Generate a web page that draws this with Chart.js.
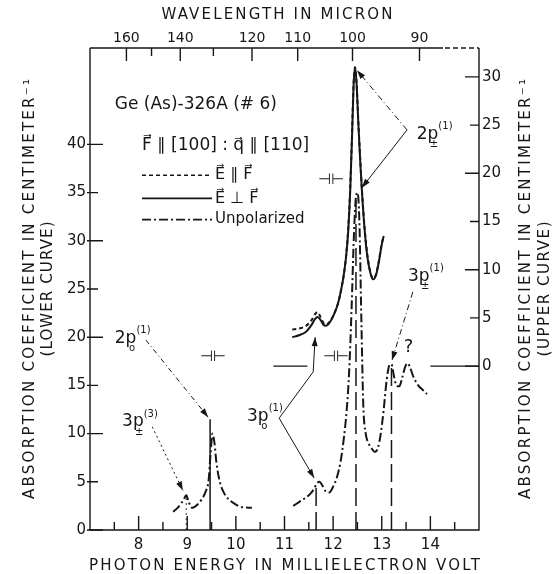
<!DOCTYPE html>
<html>
<head>
<meta charset="utf-8">
<script src="https://cdn.jsdelivr.net/npm/chart.js@4"></script>
<style>
  html, body { margin: 0; padding: 0; background: #fff; }
  #wrap { width: 556px; height: 574px; }
</style>
</head>
<body>
<div id="wrap"><canvas id="absChart"></canvas></div>
<script>
// photon energy (meV) / absorption coefficient (cm^-1), lower curve on left axis
const lowerE = [8.71, 8.8, 8.88, 8.94, 8.98, 9.03, 9.1, 9.2, 9.3, 9.38, 9.44, 9.48, 9.52, 9.56, 9.6, 9.66, 9.74, 9.85, 9.95, 10.1, 10.33,
  10.8,
  11.18, 11.3, 11.42, 11.52, 11.6, 11.66, 11.72, 11.78, 11.85, 11.92, 12.0, 12.08, 12.15, 12.22, 12.28, 12.33, 12.38, 12.42, 12.46, 12.5,
  12.54, 12.58, 12.62, 12.67, 12.73, 12.8, 12.86, 12.92, 12.98, 13.04, 13.1, 13.15, 13.2, 13.25, 13.3, 13.36, 13.42, 13.48, 13.53, 13.58,
  13.65, 13.75, 13.85, 13.93];
const lowerA = [1.9, 2.3, 2.8, 3.3, 3.6, 2.9, 2.3, 2.6, 3.2, 4.0, 5.2, 8.0, 10.0, 9.0, 7.0, 5.2, 4.0, 3.2, 2.8, 2.4, 2.3,
  null,
  2.5, 2.9, 3.3, 3.7, 4.2, 4.8, 5.0, 4.6, 4.0, 3.9, 4.5, 5.5, 7.0, 9.5, 12.5, 16.5, 23.0, 29.5, 34.0, 35.0,
  32.0, 22.0, 13.0, 10.0, 9.0, 8.4, 8.1, 8.5, 10.0, 12.5, 15.5, 17.0, 17.2, 16.0, 15.0, 14.9, 15.8, 16.9, 17.3, 16.9,
  15.9, 15.0, 14.5, 14.1];

// upper curves on right axis
const upperE = [11.16, 11.3, 11.45, 11.56, 11.63, 11.68, 11.74, 11.8, 11.86, 11.94, 12.02, 12.1, 12.16, 12.22, 12.27, 12.31,
  12.35, 12.39, 12.42, 12.45, 12.48, 12.52, 12.56, 12.6, 12.65, 12.7, 12.76, 12.82, 12.88, 12.94, 13.0, 13.04];
const perpA = [3.0, 3.2, 3.6, 4.3, 4.9, 5.1, 4.8, 4.3, 4.2, 4.6, 5.4, 6.5, 7.8, 9.5, 11.5, 14.0,
  18.0, 24.0, 29.0, 31.0, 29.5, 25.0, 21.0, 17.5, 14.0, 11.5, 9.8, 9.0, 9.4, 10.8, 12.6, 13.5];
const parA = [3.8, 3.9, 4.2, 4.8, 5.4, 5.6, 5.1, 4.5, 4.3, 4.7, 5.4, 6.5, 7.8, 9.5, 11.6, 14.2,
  18.3, 24.3, 29.2, 31.0, 29.6, 25.2, 21.2, 17.7, 14.2, 11.7, 9.9, 9.1, 9.5, 10.9, 12.7, 13.5];

// zero line of the upper curve
const baseE = [10.77, 11.47, 14.0, 15.0];

// line positions marked down to the axis
const dotMarkE = [8.98];
const dotMarkTop = [3.4];
const solidMarkE = [9.47];
const solidMarkTop = [11.5];
const dashMarkE = [11.65, 12.47, 13.2];
const dashMarkTop = [4.7, 34.5, 16.8];

// ticks
const energyTicks = [7.5, 8, 8.5, 9, 9.5, 10, 10.5, 11, 11.5, 12, 12.5, 13, 13.5, 14, 14.5];
const energyLabels = [8, 9, 10, 11, 12, 13, 14];
const leftTicks = [0, 5, 10, 15, 20, 25, 30, 35, 40];
const rightTicks = [0, 5, 10, 15, 20, 25, 30];
const waveTicks = [160, 150, 140, 130, 120, 110, 100, 90];
const waveLabels = [160, 140, 120, 110, 100, 90];

const HC = 1239.84; // meV * micron
const ink = '#161616';
const FONT = '"DejaVu Sans", sans-serif';

const pts = (xs, ys) => xs.map((x, i) => ({ x: x, y: ys[i] }));
const marks = (xs, tops) => xs.flatMap((x, i) => [{ x: x, y: 0 }, { x: x, y: tops[i] }, { x: x, y: null }]);

function arrow(ctx, p, dash, head) {
  ctx.save();
  ctx.setLineDash(dash);
  ctx.lineWidth = 1;
  ctx.beginPath();
  ctx.moveTo(p[0][0], p[0][1]);
  for (let i = 1; i < p.length; i++) ctx.lineTo(p[i][0], p[i][1]);
  ctx.stroke();
  if (head) {
    const [x1, y1] = p[p.length - 2], [x2, y2] = p[p.length - 1];
    const a = Math.atan2(y2 - y1, x2 - x1);
    ctx.setLineDash([]);
    ctx.beginPath();
    ctx.moveTo(x2, y2);
    ctx.lineTo(x2 - 9 * Math.cos(a) + 3 * Math.sin(a), y2 - 9 * Math.sin(a) - 3 * Math.cos(a));
    ctx.lineTo(x2 - 9 * Math.cos(a) - 3 * Math.sin(a), y2 - 9 * Math.sin(a) + 3 * Math.cos(a));
    ctx.closePath();
    ctx.fill();
  }
  ctx.restore();
}

function level(ctx, x, y, main, sub, sup) {
  ctx.textAlign = 'left';
  ctx.textBaseline = 'middle';
  ctx.font = '17px ' + FONT;
  ctx.fillText(main, x, y);
  const w = ctx.measureText(main).width;
  const pw = ctx.measureText('p').width;
  ctx.font = '10px ' + FONT;
  ctx.fillText(sup, x + w, y - 8);
  ctx.textAlign = 'center';
  ctx.fillText(sub, x + w - pw / 2 + 1, y + 10);
}

function spaced(ctx, text, cx, cy, width, angle) {
  ctx.save();
  ctx.translate(cx, cy);
  ctx.rotate(angle);
  ctx.font = '15px ' + FONT;
  ctx.letterSpacing = '0px';
  const w0 = ctx.measureText(text).width;
  ctx.letterSpacing = ((width - w0) / (text.length - 1)) + 'px';
  ctx.textAlign = 'left';
  ctx.textBaseline = 'middle';
  ctx.fillText(text, -width / 2, 0);
  ctx.restore();
}

const annot = {
  id: 'annot',
  afterDatasetsDraw(chart) {
    const { ctx, chartArea: a, scales } = chart;
    const X = scales.x, Y = scales.y;
    const p = (e, v) => [X.getPixelForValue(e), Y.getPixelForValue(v)];
    ctx.save();
    ctx.strokeStyle = ink;
    ctx.fillStyle = ink;

    // frame
    ctx.lineWidth = 1.4;
    ctx.beginPath();
    ctx.moveTo(a.left, a.top); ctx.lineTo(a.left, a.bottom); ctx.lineTo(a.right, a.bottom); ctx.lineTo(a.right, a.top);
    ctx.moveTo(a.left, a.top); ctx.lineTo(X.getPixelForValue(14.26), a.top);
    ctx.stroke();
    ctx.setLineDash([5, 3]);
    ctx.beginPath();
    ctx.moveTo(X.getPixelForValue(14.3), a.top); ctx.lineTo(a.right, a.top);
    ctx.stroke();
    ctx.setLineDash([]);

    // inward ticks
    ctx.lineWidth = 1.4;
    ctx.beginPath();
    X.ticks.forEach(t => {
      const x = X.getPixelForValue(t.value);
      ctx.moveTo(x, a.bottom); ctx.lineTo(x, a.bottom - (Number.isInteger(t.value) ? 14 : 8));
    });
    scales.xTop.ticks.forEach(t => {
      const x = scales.xTop.getPixelForValue(t.value);
      const lab = waveLabels.includes(Math.round(HC / t.value));
      ctx.moveTo(x, a.top); ctx.lineTo(x, a.top + (lab ? 13 : 8));
    });
    Y.ticks.forEach(t => {
      const y = Y.getPixelForValue(t.value);
      ctx.moveTo(a.left - 3, y); ctx.lineTo(a.left + (t.value % 10 === 0 ? 13 : 8), y);
    });
    scales.y2.ticks.forEach(t => {
      const y = scales.y2.getPixelForValue(t.value);
      ctx.moveTo(a.right, y); ctx.lineTo(a.right - (t.value % 10 === 0 ? 14 : 9), y);
    });
    ctx.stroke();

    // sample description and legend
    ctx.textBaseline = 'middle';
    ctx.textAlign = 'left';
    ctx.font = '17px ' + FONT;
    let q = p(7.51, 44.1);
    ctx.fillText('Ge (As)-326A (# 6)', q[0], q[1]);
    q = p(8.07, 39.9);
    ctx.fillText('F\u20D7 \u2225 [100] : q\u20D7 \u2225 [110]', q[0], q[1]);
    const rows = [[36.8, [4, 3], 'E\u20D7 \u2225 F\u20D7'], [34.4, [], 'E\u20D7 \u22A5 F\u20D7'], [32.2, [9, 3, 2, 3], 'Unpolarized']];
    rows.forEach(r => {
      const s = p(8.07, r[0]), e = p(9.51, r[0]);
      ctx.save();
      ctx.lineWidth = 1.6;
      ctx.setLineDash(r[1]);
      ctx.beginPath(); ctx.moveTo(s[0], s[1]); ctx.lineTo(e[0], e[1]); ctx.stroke();
      ctx.restore();
      ctx.font = (r[2] === 'Unpolarized' ? '15px ' : '16px ') + FONT;
      ctx.fillText(r[2], e[0] + 3, e[1]);
    });

    // line assignments
    q = p(13.72, 41.0); level(ctx, q[0], q[1], '2p', '\u00B1', '(1)');
    q = p(7.51, 19.9); level(ctx, q[0], q[1], '2p', 'o', '(1)');
    q = p(7.66, 11.2); level(ctx, q[0], q[1], '3p', '\u00B1', '(3)');
    q = p(10.23, 11.8); level(ctx, q[0], q[1], '3p', 'o', '(1)');
    q = p(13.54, 26.3); level(ctx, q[0], q[1], '3p', '\u00B1', '(1)');
    ctx.font = '18px ' + FONT;
    ctx.textAlign = 'center';
    q = p(13.55, 19.0); ctx.fillText('?', q[0], q[1]);

    arrow(ctx, [p(13.52, 41.5), p(12.49, 47.7)], [6, 3, 1, 3], true);
    arrow(ctx, [p(13.52, 41.5), p(12.59, 35.5)], [], true);
    arrow(ctx, [p(8.15, 19.7), p(9.43, 11.7)], [5, 3, 1, 3], true);
    arrow(ctx, [p(8.28, 10.7), p(8.91, 4.1)], [2, 3], true);
    arrow(ctx, [p(10.89, 11.6), p(11.59, 16.4), p(11.63, 20.0)], [], true);
    arrow(ctx, [p(10.89, 11.6), p(11.61, 5.4)], [], true);
    arrow(ctx, [p(13.64, 24.7), p(13.21, 17.6)], [6, 3, 1, 3], true);

    // resolution marks
    ctx.font = '15px ' + FONT;
    ctx.textAlign = 'center';
    [[9.53, 17.9], [12.06, 17.9], [11.96, 36.3]].forEach(m => {
      const r = p(m[0], m[1]);
      ctx.fillText('\u22A3\u22A2', r[0], r[1]);
    });

    // axis titles
    spaced(ctx, 'PHOTON ENERGY IN MILLIELECTRON VOLT', 284.5, 566, 391, 0);
    spaced(ctx, 'WAVELENGTH IN MICRON', 277, 15, 231, 0);
    spaced(ctx, 'ABSORPTION COEFFICIENT IN CENTIMETER\u207B\u00B9', 30, 289, 420, -Math.PI / 2);
    spaced(ctx, '(LOWER CURVE)', 48, 289, 135, -Math.PI / 2);
    spaced(ctx, 'ABSORPTION COEFFICIENT IN CENTIMETER\u207B\u00B9', 526, 289, 420, -Math.PI / 2);
    spaced(ctx, '(UPPER CURVE)', 545, 289, 135, -Math.PI / 2);
    ctx.restore();
  }
};

const tickFont = { family: FONT, size: 15 };
const noGrid = { display: false, drawTicks: false };

new Chart(document.getElementById('absChart').getContext('2d'), {
  type: 'line',
  data: {
    datasets: [
      { label: 'Unpolarized', data: pts(lowerE, lowerA), yAxisID: 'y', borderColor: ink, borderWidth: 2,
        borderDash: [9, 3, 2, 3], cubicInterpolationMode: 'monotone' },
      { label: 'E perp F', data: pts(upperE, perpA), yAxisID: 'y2', borderColor: ink, borderWidth: 2,
        cubicInterpolationMode: 'monotone' },
      { label: 'E par F', data: pts(upperE, parA), yAxisID: 'y2', borderColor: ink, borderWidth: 2,
        borderDash: [4, 3], cubicInterpolationMode: 'monotone' },
      { label: 'zero', data: [{ x: baseE[0], y: 0 }, { x: baseE[1], y: 0 }, { x: 12.5, y: null }, { x: baseE[2], y: 0 }, { x: baseE[3], y: 0 }],
        yAxisID: 'y2', borderColor: ink, borderWidth: 1.4 },
      { label: 'dot marks', data: marks(dotMarkE, dotMarkTop), yAxisID: 'y', borderColor: '#555', borderWidth: 1.2, borderDash: [2, 3] },
      { label: 'solid marks', data: marks(solidMarkE, solidMarkTop), yAxisID: 'y', borderColor: ink, borderWidth: 1.5 },
      { label: 'dash marks', data: marks(dashMarkE, dashMarkTop), yAxisID: 'y', borderColor: ink, borderWidth: 1.5, borderDash: [18, 6] }
    ]
  },
  options: {
    responsive: true,
    maintainAspectRatio: false,
    animation: false,
    layout: { padding: 0 },
    elements: { point: { radius: 0 } },
    plugins: { legend: { display: false }, tooltip: { enabled: false } },
    scales: {
      x: {
        type: 'linear', position: 'bottom', min: 7, max: 15,
        afterBuildTicks: s => { s.ticks = energyTicks.map(v => ({ value: v })); },
        afterFit: s => { s.height = 44; },
        grid: noGrid, border: { display: false },
        ticks: { autoSkip: false, maxRotation: 0, padding: 6, color: ink, font: tickFont,
          callback: v => energyLabels.includes(v) ? String(v) : '' }
      },
      xTop: {
        axis: 'x', type: 'linear', position: 'top', min: 7, max: 15,
        afterBuildTicks: s => { s.ticks = waveTicks.map(w => ({ value: HC / w })); },
        afterFit: s => { s.height = 48; },
        grid: noGrid, border: { display: false },
        ticks: { autoSkip: false, maxRotation: 0, padding: 1, color: ink, font: { family: FONT, size: 14 },
          callback: v => { const w = Math.round(HC / v); return waveLabels.includes(w) ? String(w) : ''; } }
      },
      y: {
        position: 'left', min: 0, max: 50,
        afterBuildTicks: s => { s.ticks = leftTicks.map(v => ({ value: v })); },
        afterFit: s => { s.width = 90; },
        grid: noGrid, border: { display: false },
        ticks: { autoSkip: false, padding: 4, color: ink, font: tickFont }
      },
      y2: {
        position: 'right', min: -17, max: 33,
        afterBuildTicks: s => { s.ticks = rightTicks.map(v => ({ value: v })); },
        afterFit: s => { s.width = 77; },
        grid: noGrid, border: { display: false },
        ticks: { autoSkip: false, padding: 3, color: ink, font: tickFont }
      }
    }
  },
  plugins: [annot]
});
</script>
</body>
</html>
